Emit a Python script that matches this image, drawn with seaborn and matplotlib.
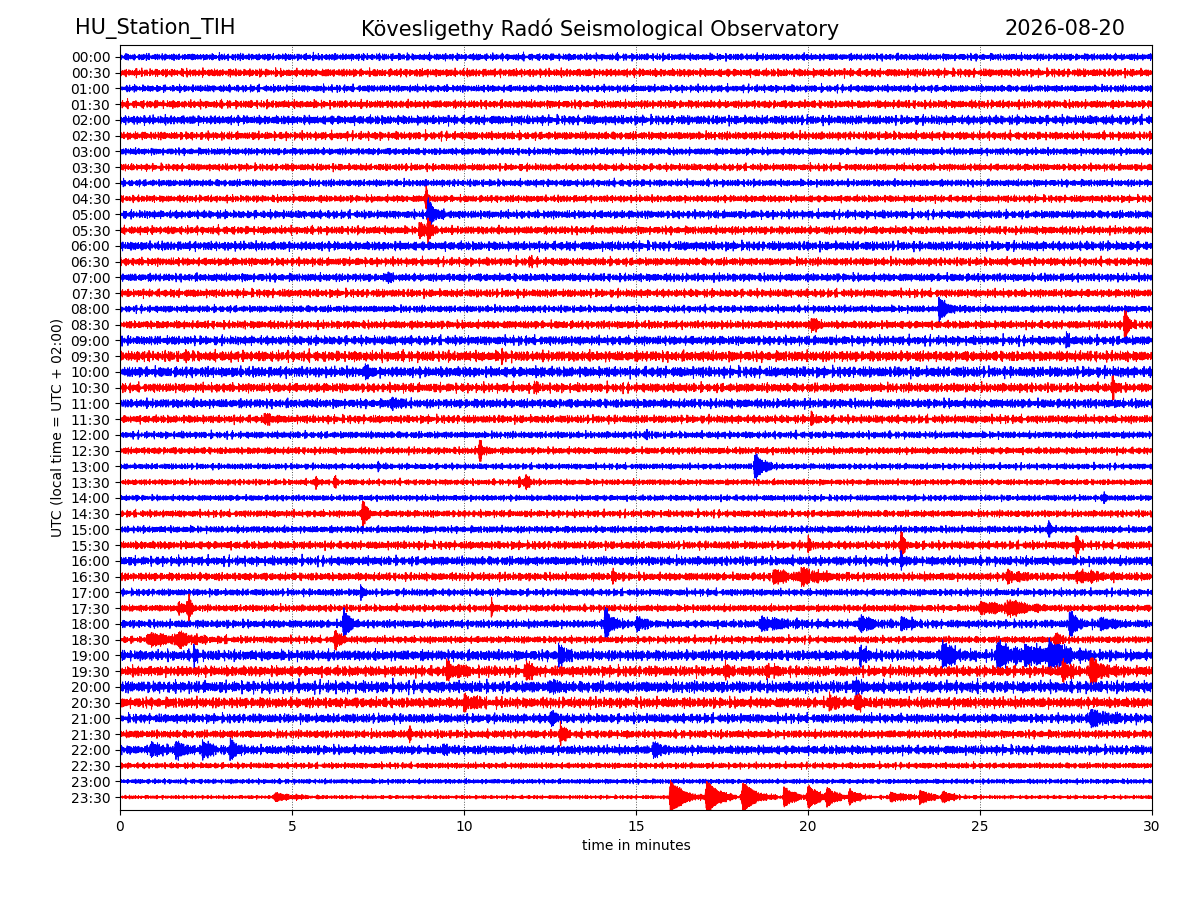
import numpy as np
import pandas as pd
import seaborn as sns
import matplotlib
matplotlib.use("Agg")
import matplotlib.pyplot as plt

# slot labels (one trace per half hour)
slots = [f"{h:02d}:{m:02d}" for h in range(24) for m in (0, 30)]
trace_colors = ["blue", "red"] * 24

# background noise level of every trace (fraction of the trace spacing)
noise_level = [
    0.19, 0.22, 0.19, 0.22, 0.25, 0.22, 0.19, 0.19,   # 00:00-03:30
    0.19, 0.19, 0.22, 0.22, 0.25, 0.22, 0.22, 0.22,   # 04:00-07:30
    0.19, 0.22, 0.25, 0.29, 0.29, 0.25, 0.25, 0.22,   # 08:00-11:30
    0.19, 0.19, 0.16, 0.16, 0.16, 0.19, 0.19, 0.22,   # 12:00-15:30
    0.25, 0.22, 0.19, 0.19, 0.22, 0.19, 0.29, 0.29,   # 16:00-19:30
    0.32, 0.29, 0.25, 0.22, 0.25, 0.16, 0.13, 0.10,   # 20:00-23:30
]

# events: slot, minute, peak amplitude, decay (minutes)
ev_slot = ["04:30", "05:00", "05:30", "05:30", "06:30", "07:00",
           "08:00", "08:30", "08:30", "09:00", "09:30", "09:30",
           "10:00", "10:00", "10:30", "10:30", "11:00", "11:30", "11:30",
           "12:00", "12:30", "13:00", "13:00", "13:30", "13:30", "13:30", "13:30",
           "14:00", "14:30", "15:00", "15:30", "15:30", "15:30", "16:00",
           "16:30", "16:30", "16:30", "16:30", "16:30", "17:00",
           "17:30", "17:30", "17:30", "17:30", "17:30",
           "18:00", "18:00", "18:00", "18:00", "18:00", "18:00", "18:00", "18:00",
           "18:30", "18:30", "18:30", "18:30",
           "19:00", "19:00", "19:00", "19:00", "19:00", "19:00", "19:00",
           "19:30", "19:30", "19:30", "19:30", "19:30", "19:30",
           "20:00", "20:00", "20:30", "20:30", "20:30", "21:00", "21:00",
           "21:30", "21:30", "22:00", "22:00", "22:00", "22:00", "22:00", "22:00",
           "23:30", "23:30", "23:30", "23:30", "23:30", "23:30", "23:30",
           "23:30", "23:30", "23:30", "23:30"]
ev_minute = [8.9, 8.95, 8.7, 8.95, 11.9, 7.8,
             23.8, 29.2, 20.1, 27.5, 11.1, 1.9,
             7.15, 12.1, 28.85, 12.1, 7.9, 4.2, 20.1,
             15.3, 10.45, 7.5, 18.45, 5.7, 6.25, 11.6, 11.8,
             28.6, 7.05, 27.0, 22.7, 27.8, 20.0, 22.7,
             14.3, 19.0, 19.8, 25.8, 27.8, 7.0,
             1.7, 2.0, 10.8, 25.0, 25.8,
             6.5, 14.1, 15.0, 18.6, 21.5, 22.7, 27.6, 28.5,
             0.8, 6.25, 27.2, 1.7,
             2.15, 12.75, 21.5, 23.9, 25.5, 27.0, 26.3,
             9.5, 11.8, 17.6, 18.8, 27.4, 28.2,
             12.5, 21.4, 10.0, 20.6, 21.4, 12.5, 28.2,
             8.4, 12.8, 0.9, 1.6, 2.4, 3.2, 9.4, 15.5,
             4.5, 16.0, 17.05, 18.1, 19.3, 20.0, 20.55,
             21.2, 22.4, 23.25, 23.9]
ev_amp = [0.70, 0.80, 0.50, 0.65, 0.32, 0.25,
          0.50, 0.76, 0.32, 0.32, 0.50, 0.32,
          0.45, 0.25, 0.64, 0.32, 0.32, 0.32, 0.32,
          0.32, 0.70, 0.25, 0.70, 0.38, 0.38, 0.32, 0.38,
          0.25, 0.70, 0.45, 0.76, 0.64, 0.32, 0.38,
          0.38, 0.32, 0.32, 0.32, 0.28, 0.32,
          0.32, 0.64, 0.50, 0.30, 0.32,
          0.85, 0.89, 0.32, 0.30, 0.38, 0.32, 0.64, 0.32,
          0.28, 0.45, 0.32, 0.28,
          0.64, 0.57, 0.38, 0.64, 0.70, 0.57, 0.40,
          0.45, 0.57, 0.50, 0.38, 0.57, 0.64,
          0.38, 0.38, 0.38, 0.45, 0.38, 0.32, 0.38,
          0.32, 0.45, 0.45, 0.45, 0.45, 0.45, 0.32, 0.38,
          0.19, 0.89, 0.83, 0.76, 0.50, 0.57, 0.45,
          0.38, 0.25, 0.32, 0.25]
ev_decay = [0.06, 0.2, 0.15, 0.08, 0.1, 0.1,
            0.3, 0.12, 0.2, 0.1, 0.07, 0.1,
            0.1, 0.1, 0.08, 0.1, 0.2, 0.2, 0.1,
            0.06, 0.1, 0.1, 0.25, 0.06, 0.06, 0.1, 0.1,
            0.1, 0.12, 0.06, 0.1, 0.07, 0.1, 0.1,
            0.1, 0.6, 0.6, 0.4, 0.8, 0.1,
            0.2, 0.08, 0.06, 0.8, 0.5,
            0.15, 0.2, 0.3, 1.0, 0.4, 0.3, 0.25, 0.4,
            1.2, 0.2, 0.2, 0.3,
            0.08, 0.2, 0.3, 0.4, 0.5, 0.5, 0.8,
            0.4, 0.15, 0.1, 0.2, 0.2, 0.4,
            0.2, 0.2, 0.4, 0.2, 0.2, 0.2, 0.7,
            0.15, 0.2, 0.25, 0.25, 0.25, 0.25, 0.15, 0.25,
            0.6, 0.35, 0.35, 0.35, 0.3, 0.3, 0.25,
            0.25, 0.5, 0.3, 0.3]

t = np.linspace(0, 30, 14401)
freqs = [29.3, 33.71, 35.9, 40.61, 42.07, 46.83, 48.29, 53.47, 57.13, 61.9]
frames = []
for i, (slot, lvl) in enumerate(zip(slots, noise_level)):
    # background texture: irregular tones, each trace on its own stretch
    tt = t + 37.17 * (i + 1)
    carrier = sum(np.sin(2 * np.pi * f * tt + 2.17 * k * k)
                  for k, f in enumerate(freqs))
    carrier = carrier / carrier.std()
    sig = lvl * 0.47 * carrier
    # events: steady tone, sharp onset, exponential coda
    ev_env = np.zeros_like(t)
    for s, m0, a, d in zip(ev_slot, ev_minute, ev_amp, ev_decay):
        if s != slot:
            continue
        dt = t - m0
        ev_env += a * np.where(dt >= 0, np.exp(-dt / d), np.exp(dt / 0.02))
    sig = sig + 1.2 * ev_env * np.sin(2 * np.pi * 60.37 * t + i)
    frames.append(pd.DataFrame({"minute": t, "y": i + sig, "slot": slot}))
df = pd.concat(frames, ignore_index=True)

fig = plt.figure(figsize=(12, 9), dpi=100)
ax = fig.add_axes([0.1, 0.1, 0.86, 0.85])
sns.lineplot(data=df, x="minute", y="y", hue="slot", hue_order=slots,
             palette=trace_colors, estimator=None, sort=False,
             legend=False, linewidth=0.7, ax=ax)

ax.set_xlim(0, 30)
ax.set_ylim(47.82, -0.76)
ax.set_yticks(range(len(slots)))
ax.set_yticklabels(slots)
ax.set_xticks([0, 5, 10, 15, 20, 25, 30])
ax.grid(axis="x", linestyle=":", color="0.35", linewidth=0.7)
ax.set_xlabel("time in minutes")
ax.set_ylabel("UTC (local time = UTC + 02:00)")

fig.text(0.0625, 0.968, "HU_Station_TIH", fontsize=15, ha="left", va="center")
fig.text(0.5, 0.968, "Kövesligethy Radó Seismological Observatory", fontsize=15,
         ha="center", va="center")
fig.text(0.9375, 0.968, "2026-08-20", fontsize=15, ha="right", va="center")

fig.savefig("out.png", dpi=100)
